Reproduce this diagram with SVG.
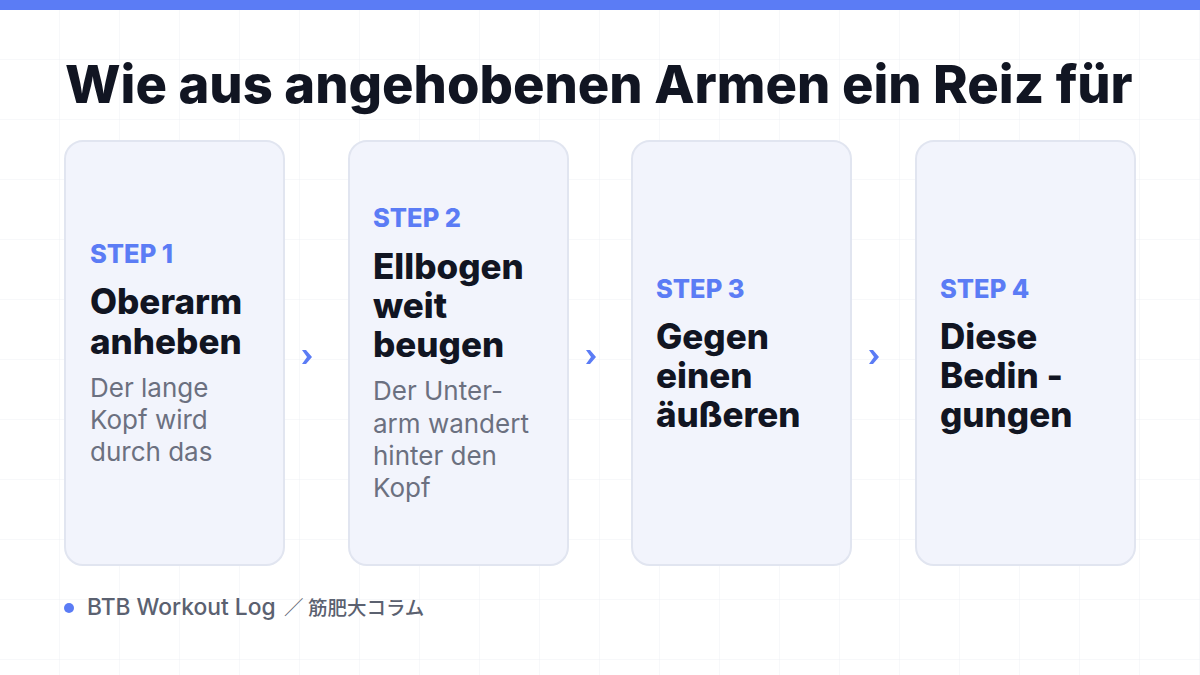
<svg xmlns="http://www.w3.org/2000/svg" width="1200" height="675" viewBox="0 0 1200 675">
<defs>
<pattern id="grid" width="60" height="60" patternUnits="userSpaceOnUse">
<path d="M60 0V60M0 60H60" fill="none" stroke="#eef0f5" stroke-width="1"/>
</pattern>
</defs>
<style>
.card{fill:#f2f4fc;stroke:#e1e5f0;stroke-width:2}
.step{font-family:Inter,"Liberation Sans",sans-serif;font-weight:800;font-size:25.5px;fill:#5b7cf5}
.ttl{font-family:Inter,"Liberation Sans",sans-serif;font-weight:800;font-size:35px;fill:#111522}
.desc{font-family:Inter,"Liberation Sans",sans-serif;font-weight:400;font-size:26px;fill:#6b7080}
.chev{fill:#5b7cf5}
</style>
<rect width="1200" height="675" fill="#ffffff"/>
<rect width="1200" height="675" fill="url(#grid)"/>
<rect width="1200" height="10" fill="#5b7cf5"/>
<text x="65" y="103" font-family="Inter,'Liberation Sans',sans-serif" font-weight="800" font-size="52.5" fill="#111522">Wie aus angehobenen Armen ein Reiz für</text>
<g id="step1">
<rect class="card" x="65" y="141" width="219" height="424" rx="18"/>
<text class="step" x="90" y="263">STEP 1</text>
<text class="ttl" x="90" y="314">Oberarm</text>
<text class="ttl" x="90" y="354">anheben</text>
<text class="desc" x="90" y="397">Der lange</text>
<text class="desc" x="90" y="429">Kopf wird</text>
<text class="desc" x="90" y="461">durch das</text>
</g>
<g id="step2">
<rect class="card" x="349" y="141" width="219" height="424" rx="18"/>
<text class="step" x="373" y="227">STEP 2</text>
<text class="ttl" x="373" y="279">Ellbogen</text>
<text class="ttl" x="373" y="318">weit</text>
<text class="ttl" x="373" y="357">beugen</text>
<text class="desc" x="373" y="400">Der Unter-</text>
<text class="desc" x="373" y="433">arm wandert</text>
<text class="desc" x="373" y="465">hinter den</text>
<text class="desc" x="373" y="497">Kopf</text>
</g>
<g id="step3">
<rect class="card" x="632" y="141" width="219" height="424" rx="18"/>
<text class="step" x="656" y="298">STEP 3</text>
<text class="ttl" x="656" y="349">Gegen</text>
<text class="ttl" x="656" y="388">einen</text>
<text class="ttl" x="656" y="427">äußeren</text>
</g>
<g id="step4">
<rect class="card" x="916" y="141" width="219" height="424" rx="18"/>
<text class="step" x="940" y="298">STEP 4</text>
<text class="ttl" x="940" y="349">Diese</text>
<text class="ttl" x="940" y="388">Bedin -</text>
<text class="ttl" x="940" y="427">gungen</text>
</g>
<g id="connectors">
<path class="chev" d="M302 350 L306 350 L312 357 L306 364 L302 364 L307 357 Z"/>
<path class="chev" d="M586 350 L590 350 L596 357 L590 364 L586 364 L591 357 Z"/>
<path class="chev" d="M869 350 L873 350 L879 357 L873 364 L869 364 L874 357 Z"/>
</g>
<g id="footer">
<circle cx="69" cy="608" r="5" fill="#5b7cf5"/>
<text x="87" y="615" font-family="Inter,'Liberation Sans','Noto Sans CJK JP',sans-serif" font-weight="500" font-size="22.8" fill="#5b6170">BTB Workout Log<tspan x="284" font-size="19.5" font-family="'Noto Sans CJK JP',sans-serif">／ 筋肥大コラム</tspan></text>
</g>
</svg>
